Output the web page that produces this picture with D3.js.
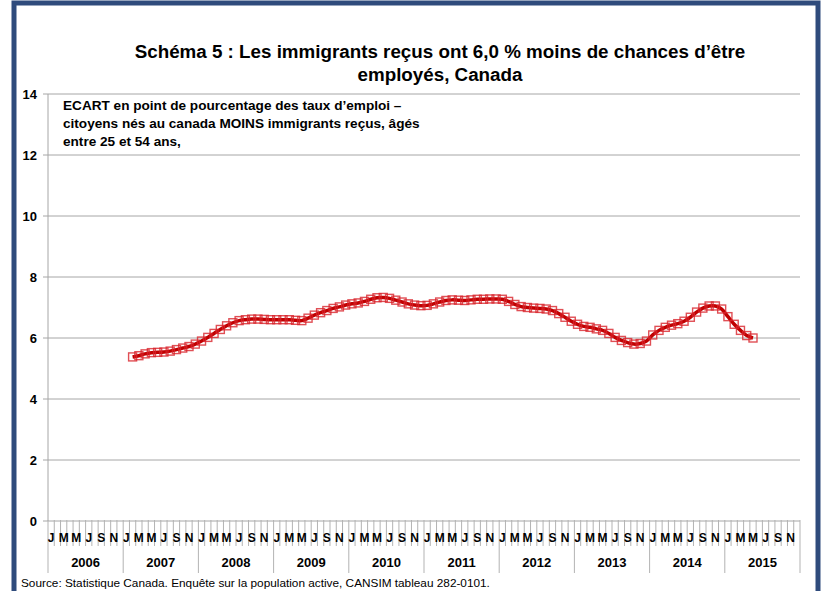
<!DOCTYPE html>
<html>
<head>
<meta charset="utf-8">
<script src="https://cdn.jsdelivr.net/npm/d3@7/dist/d3.min.js"></script>
<style>
  body { margin: 0; background: #fff; }
  svg { display: block; font-family: "Liberation Sans", Arial, sans-serif; }
</style>
</head>
<body>
<script>
// dimensions de la page
const width = 822;
const height = 591;

// textes
const titre = ["Schéma 5 : Les immigrants reçus ont 6,0 % moins de chances d’être",
               "employés, Canada"];
const note = ["ECART en point de pourcentage des taux d’emploi –",
              "citoyens nés au canada MOINS immigrants reçus, âgés",
              "entre 25 et 54 ans,"];
const source = "Source: Statistique Canada. Enquête sur la population active, CANSIM tableau 282-0101.";

// axes
const annees = ["2006", "2007", "2008", "2009", "2010", "2011", "2012", "2013", "2014", "2015"];
const moisLettres = ["J", "", "M", "", "M", "", "J", "", "S", "", "N", ""];
const yTicks = [0, 2, 4, 6, 8, 10, 12, 14];

// écart (points de %), par année — 2007 commence en février, 2015 finit en mai
const ecart2007 = [5.38, 5.42, 5.48, 5.52, 5.53, 5.54, 5.57, 5.62, 5.67, 5.72, 5.80];
const ecart2008 = [5.90, 6.02, 6.15, 6.28, 6.40, 6.50, 6.57, 6.60, 6.62, 6.62, 6.61, 6.60];
const ecart2009 = [6.60, 6.60, 6.60, 6.58, 6.57, 6.65, 6.75, 6.83, 6.90, 6.97, 7.02, 7.08];
const ecart2010 = [7.12, 7.15, 7.20, 7.27, 7.32, 7.33, 7.30, 7.24, 7.18, 7.12, 7.08, 7.06];
const ecart2011 = [7.07, 7.12, 7.18, 7.23, 7.25, 7.24, 7.23, 7.25, 7.27, 7.27, 7.28, 7.28];
const ecart2012 = [7.27, 7.20, 7.10, 7.03, 7.00, 6.98, 6.97, 6.95, 6.90, 6.80, 6.68, 6.55];
const ecart2013 = [6.45, 6.38, 6.35, 6.30, 6.25, 6.15, 6.02, 5.92, 5.85, 5.80, 5.82, 5.90];
const ecart2014 = [6.10, 6.25, 6.35, 6.42, 6.47, 6.55, 6.68, 6.85, 6.98, 7.05, 7.05, 6.95];
const ecart2015 = [6.70, 6.45, 6.25, 6.08, 6.00];

// toutes les catégories mensuelles
const mois = [];
annees.forEach(a => d3.range(12).forEach(m => mois.push(a + "-" + m)));

// série mensuelle
const serie = [];
function ajouter(annee, moisDebut, valeurs) {
  valeurs.forEach((v, i) => serie.push({ cle: annee + "-" + (moisDebut + i), valeur: v }));
}
ajouter("2007", 1, ecart2007);
ajouter("2008", 0, ecart2008);
ajouter("2009", 0, ecart2009);
ajouter("2010", 0, ecart2010);
ajouter("2011", 0, ecart2011);
ajouter("2012", 0, ecart2012);
ajouter("2013", 0, ecart2013);
ajouter("2014", 0, ecart2014);
ajouter("2015", 0, ecart2015);

const svg = d3.select("body").append("svg")
  .attr("width", width)
  .attr("height", height);

// cadre bleu
svg.append("rect")
  .attr("x", 14).attr("y", 3)
  .attr("width", 804).attr("height", 600)
  .attr("fill", "none")
  .attr("stroke", "#2f4b7c")
  .attr("stroke-width", 5);

const xScale = d3.scaleBand().domain(mois).range([48, 800]);
const yScale = d3.scaleLinear().domain([0, 14]).range([521, 94]);

// grille horizontale
svg.append("g")
  .selectAll("line")
  .data(yTicks)
  .join("line")
  .attr("x1", 43).attr("x2", 800)
  .attr("y1", d => yScale(d)).attr("y2", d => yScale(d))
  .attr("stroke", "#a6a6a6")
  .attr("stroke-width", 1);

// axe vertical
svg.append("line")
  .attr("x1", 48).attr("x2", 48)
  .attr("y1", yScale(14)).attr("y2", yScale(0))
  .attr("stroke", "#a6a6a6");

svg.append("g")
  .selectAll("text")
  .data(yTicks)
  .join("text")
  .attr("x", 37)
  .attr("y", d => yScale(d) + 4.5)
  .attr("text-anchor", "end")
  .attr("font-size", 13)
  .attr("font-weight", "bold")
  .text(d => d);

// graduations mensuelles
const bornes = d3.range(121).map(i => 48 + i * xScale.step());
svg.append("g")
  .selectAll("line")
  .data(bornes)
  .join("line")
  .attr("x1", d => d).attr("x2", d => d)
  .attr("y1", 520)
  .attr("y2", (d, i) => i % 12 === 0 ? 573 : 546)
  .attr("stroke", "#b3b3b3")
  .attr("stroke-width", 1);

// lettres des mois
svg.append("g")
  .selectAll("text")
  .data(mois.filter((d, i) => moisLettres[i % 12] !== ""))
  .join("text")
  .attr("x", d => xScale(d) + xScale.bandwidth() / 2)
  .attr("y", 542)
  .attr("text-anchor", "middle")
  .attr("font-size", 12)
  .attr("font-weight", "bold")
  .text(d => moisLettres[+d.split("-")[1]]);

// années
svg.append("g")
  .selectAll("text")
  .data(annees)
  .join("text")
  .attr("x", d => xScale(d + "-0") + xScale.step() * 6)
  .attr("y", 567)
  .attr("text-anchor", "middle")
  .attr("font-size", 13)
  .attr("font-weight", "bold")
  .text(d => d);

// courbe lissée
const line = d3.line()
  .x(d => xScale(d.cle) + xScale.bandwidth() / 2)
  .y(d => yScale(d.valeur))
  .curve(d3.curveCatmullRom.alpha(0.5));

svg.append("path")
  .datum(serie)
  .attr("d", line)
  .attr("fill", "none")
  .attr("stroke", "#c00000")
  .attr("stroke-width", 3.5)
  .attr("stroke-linejoin", "round");

// marqueurs carrés
svg.append("g")
  .selectAll("rect")
  .data(serie)
  .join("rect")
  .attr("x", d => xScale(d.cle) + xScale.bandwidth() / 2 - 4)
  .attr("y", d => yScale(d.valeur) - 4)
  .attr("width", 8).attr("height", 8)
  .attr("fill", "none")
  .attr("stroke", "#d8232a")
  .attr("stroke-opacity", 0.8)
  .attr("stroke-width", 1.4);

// titre
svg.append("g")
  .selectAll("text")
  .data(titre)
  .join("text")
  .attr("x", 440)
  .attr("y", (d, i) => 58 + i * 23)
  .attr("text-anchor", "middle")
  .attr("font-size", 18.8)
  .attr("font-weight", "bold")
  .text(d => d);

// note
svg.append("g")
  .selectAll("text")
  .data(note)
  .join("text")
  .attr("x", 63)
  .attr("y", (d, i) => 110 + i * 18)
  .attr("font-size", 13.6)
  .attr("font-weight", "bold")
  .text(d => d);

// source
svg.append("text")
  .attr("x", 21)
  .attr("y", 587)
  .attr("font-size", 11.8)
  .text(source);
</script>
</body>
</html>
